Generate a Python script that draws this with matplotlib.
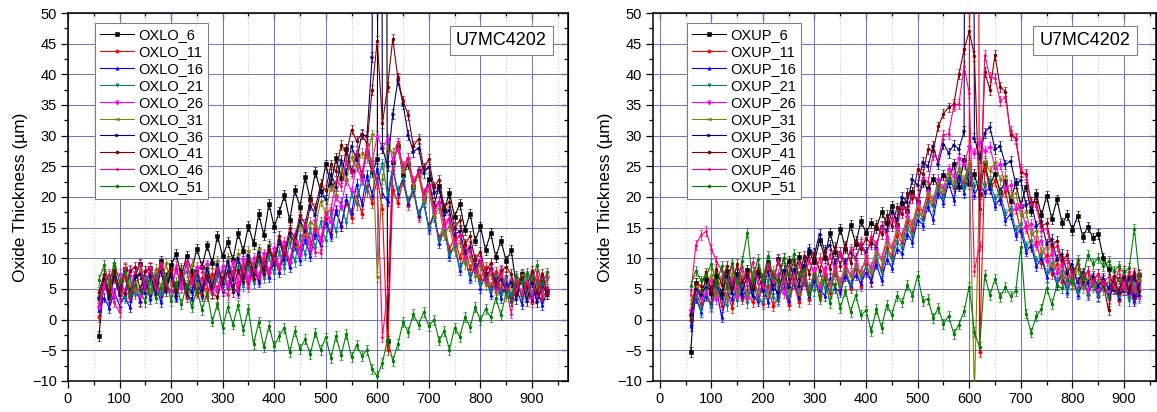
import numpy as np
import matplotlib
matplotlib.use("Agg")
import matplotlib.pyplot as plt
from matplotlib.lines import Line2D
from matplotlib.ticker import MultipleLocator

plt.rcParams['font.family'] = ['Liberation Sans', 'DejaVu Sans']

# Axial position along the rod (x) shared by every profile
POSITION = list(range(60, 931, 10))

# ---- Lower side oxide profiles (um) ----
OXLO_6 = [-2.7, 6.4, 4.1, 7.9, 5.0, 8.3, 4.6, 7.2, 9.1, 5.3,
          8.4, 6.1, 9.6, 6.8, 8.9, 10.7, 7.0, 10.4, 7.9, 11.6,
          8.6, 12.1, 9.2, 13.7, 10.3, 12.6, 9.8, 14.1, 11.2, 15.3,
          12.4, 17.2, 13.8, 18.9, 15.1, 17.6, 20.3, 16.2, 21.1, 18.4,
          23.2, 19.6, 24.1, 20.9, 25.3, 22.0, 26.4, 23.1, 27.8, 24.2,
          26.9, 23.5, 27.1, 24.0, 26.2, 400.0, -3.5, 25.7, 28.3, 23.6,
          25.4, 21.7, 24.3, 19.8, 22.9, 18.6, 21.8, 17.9, 20.7, 16.8,
          18.9, 14.6, 17.3, 12.9, 15.2, 11.4, 14.1, 10.2, 12.9, 9.6,
          11.3, 5.2, 7.4, 4.1, 6.8, 3.9, 6.3, 4.7]
OXLO_11 = [0.5, 5.9, 3.4, 6.8, 4.0, 7.1, 3.6, 5.7, 2.9, 6.5,
           4.1, 7.3, 3.8, 6.0, 8.2, 4.5, 6.9, 3.7, 7.0, 4.3,
           6.8, 3.9, 7.4, 4.7, 8.0, 5.2, 7.9, 4.9, 8.8, 6.1,
           9.3, 6.5, 10.1, 7.7, 10.9, 8.3, 12.0, 9.4, 12.8, 10.6,
           14.2, 11.5, 15.0, 12.8, 16.4, 14.0, 17.9, 15.2, 19.3, 16.6,
           20.2, 17.3, 21.8, 19.0, 23.1, 18.0, -5.0, 21.2, 19.1, 22.6,
           18.7, 21.0, 16.8, 19.3, 15.1, 17.4, 13.2, 15.6, 11.4, 13.5,
           10.1, 12.0, 8.3, 9.9, 6.6, 8.6, 5.3, 7.8, 4.9, 7.1,
           3.6, 6.2, 3.8, 5.9, 2.9, 6.4, 3.5, 5.0]
OXLO_16 = [1.5, 3.6, 1.9, 4.4, 2.3, 3.8, 2.0, 5.6, 3.1, 6.2,
           3.4, 6.0, 2.9, 5.5, 7.1, 3.6, 6.8, 4.2, 3.3, 6.4,
           3.8, 7.0, 4.4, 7.9, 4.6, 8.1, 5.2, 4.3, 7.5, 5.9,
           8.6, 6.1, 9.4, 6.9, 10.2, 7.8, 11.3, 8.6, 12.2, 9.7,
           13.1, 10.4, 14.0, 12.1, 15.9, 13.6, 17.8, 15.2, 19.7, 17.4,
           22.1, 18.9, 23.6, 20.4, 24.8, 20.6, 19.3, 24.5, 20.7, 23.0,
           19.1, 21.4, 17.0, 19.2, 14.8, 17.1, 12.5, 14.7, 10.3, 12.2,
           8.1, 10.3, 6.7, 8.9, 5.2, 7.4, 4.1, 6.8, 3.5, 6.0,
           3.0, 5.2, 2.6, 5.7, 3.3, 4.9, 2.4, 4.6]
OXLO_21 = [3.0, 6.7, 3.9, 7.2, 4.3, 3.5, 6.9, 4.1, 3.8, 7.0,
           4.4, 7.5, 4.0, 6.8, 7.6, 4.2, 6.9, 7.8, 4.5, 7.1,
           4.6, 7.7, 4.2, 7.0, 8.0, 4.8, 7.3, 8.4, 5.5, 8.6,
           6.0, 9.5, 6.8, 10.3, 7.4, 11.1, 8.3, 12.5, 9.4, 13.6,
           10.6, 14.8, 11.7, 15.9, 12.8, 17.5, 14.3, 19.0, 15.8, 20.6,
           18.7, 23.0, 20.8, 24.7, 22.3, 25.4, 20.4, 24.9, 21.0, 23.1,
           19.4, 21.2, 17.3, 19.1, 15.0, 16.8, 12.9, 14.5, 10.6, 12.1,
           8.5, 10.2, 6.9, 8.9, 5.6, 7.5, 4.6, 7.3, 4.2, 6.9,
           3.9, 6.8, 3.6, 7.2, 4.1, 6.0, 4.5, 6.6]
OXLO_26 = [2.0, 5.6, 7.1, 3.8, 7.5, 4.4, 8.1, 5.0, 3.9, 7.9,
           8.4, 4.9, 8.9, 5.3, 4.7, 8.3, 5.2, 9.2, 5.8, 8.6,
           5.4, 9.0, 5.8, 4.9, 8.7, 5.6, 9.4, 6.2, 9.9, 6.6,
           10.1, 7.0, 10.8, 7.8, 11.7, 8.5, 12.6, 9.4, 13.9, 10.6,
           14.7, 11.5, 16.2, 13.0, 17.6, 15.9, 20.1, 18.6, 22.8, 20.9,
           25.2, 22.7, 27.5, 25.8, 29.9, 28.0, 29.4, 26.1, 27.9, 24.3,
           26.3, 22.2, 24.1, 19.9, 21.8, 17.6, 19.0, 15.1, 16.4, 12.5,
           13.8, 10.0, 11.5, 8.1, 9.7, 6.5, 8.4, 5.2, 8.1, 4.6,
           6.5, 4.8, 7.2, 3.6, 7.4, 3.8, 7.0, 4.2]
OXLO_31 = [4.0, 7.2, 5.0, 8.4, 4.3, 8.6, 5.5, 4.7, 8.2, 5.1,
           4.5, 8.3, 5.2, 9.2, 5.6, 4.8, 8.5, 5.3, 9.1, 5.8,
           5.2, 8.8, 5.7, 9.5, 6.1, 10.1, 6.7, 10.7, 7.4, 11.2,
           8.0, 11.6, 8.5, 12.3, 9.0, 12.9, 11.1, 13.1, 12.0, 15.5,
           13.8, 16.0, 15.2, 19.3, 17.4, 21.8, 20.3, 24.3, 22.8, 26.6,
           24.9, 27.2, 26.3, 30.2, 7.0, 23.0, 28.3, 27.2, 28.8, 24.1,
           25.8, 21.7, 23.6, 19.4, 21.1, 16.7, 18.2, 13.8, 15.3, 11.2,
           12.6, 9.0, 10.4, 7.1, 8.9, 5.6, 7.5, 4.4, 7.7, 3.9,
           5.8, 4.1, 7.3, 3.7, 6.9, 5.1, 3.8, 7.0]
OXLO_36 = [3.5, 6.6, 3.6, 7.2, 4.1, 7.8, 3.8, 6.9, 7.5, 4.4,
           7.3, 4.2, 8.0, 4.6, 7.6, 3.9, 8.1, 5.1, 4.5, 7.9,
           4.8, 8.4, 5.3, 9.0, 5.8, 9.5, 6.4, 10.1, 6.9, 10.6,
           7.5, 11.1, 8.1, 12.0, 8.9, 13.0, 9.8, 14.2, 12.4, 16.3,
           14.4, 18.6, 17.1, 21.0, 19.6, 23.8, 21.7, 26.0, 23.9, 28.3,
           26.0, 30.2, 29.9, 42.8, 400.0, 28.0, 25.0, 33.5, 39.0, 35.2,
           30.1, 27.4, 28.0, 23.9, 24.9, 20.6, 21.4, 17.0, 17.8, 13.8,
           14.5, 10.9, 11.8, 8.5, 9.6, 6.7, 8.2, 5.3, 6.6, 4.9,
           6.2, 3.3, 6.8, 3.1, 6.1, 2.8, 5.6, 4.2]
OXLO_41 = [4.5, 7.4, 4.4, 8.1, 5.0, 4.2, 7.9, 8.6, 4.9, 8.0,
           8.5, 5.4, 9.0, 5.1, 8.2, 4.7, 7.8, 4.4, 7.5, 4.6,
           4.1, 7.2, 4.3, 3.7, 7.0, 7.7, 4.5, 8.1, 6.2, 9.6,
           6.6, 10.4, 7.5, 11.5, 9.8, 13.6, 10.7, 14.9, 13.2, 17.1,
           15.6, 19.5, 18.2, 22.1, 21.1, 25.3, 24.2, 28.5, 27.1, 31.0,
           29.1, 30.3, 28.6, 37.5, 45.5, 32.0, 38.0, 45.8, 39.4, 35.6,
           33.4, 28.3, 29.5, 24.7, 26.2, 21.6, 22.8, 18.3, 19.2, 14.9,
           16.2, 12.3, 13.6, 9.8, 11.1, 7.6, 9.2, 6.0, 7.9, 8.6,
           7.4, 4.0, 7.0, 5.4, 7.9, 4.3, 7.5, 4.1]
OXLO_46 = [2.5, 6.0, 7.5, 2.8, 1.2, 8.4, 3.9, 7.8, 9.0, 5.0,
           8.6, 5.1, 9.3, 5.7, 4.8, 8.7, 5.3, 9.5, 5.9, 7.7,
           8.8, 5.2, 4.3, 8.4, 4.9, 4.0, 8.0, 4.6, 8.7, 5.3,
           8.3, 6.8, 9.9, 7.4, 10.1, 8.2, 11.6, 9.3, 13.0, 11.7,
           15.6, 12.9, 11.1, 10.8, 17.3, 18.0, 22.6, 21.8, 26.0, 23.9,
           27.4, 23.6, 28.6, 24.7, 22.2, -2.8, 4.5, 24.6, 28.9, 25.0,
           26.4, 22.6, 24.0, 20.7, 22.0, 18.3, 19.4, 15.6, 16.5, 12.7,
           13.8, 10.1, 11.4, 7.8, 9.5, 6.3, 8.1, 4.9, 7.6, 5.1,
           1.0, 6.7, 4.2, 6.1, 3.6, 7.9, 4.1, 7.2]
OXLO_51 = [6.5, 8.9, 5.8, 9.3, 6.2, 7.8, 4.0, 5.7, 4.6, 2.9,
           6.4, 3.5, 5.1, 6.9, 3.0, 6.1, 2.5, 5.6, 2.0, 4.9,
           1.6, 4.4, -0.3, 2.6, -1.3, 2.1, -0.8, 2.4, -1.7, 1.7,
           -4.0, -0.4, -4.5, -1.0, -4.3, -2.6, -1.3, -5.3, -1.8, -4.8,
           -3.2, -5.6, -2.1, -4.9, -2.9, -6.2, -2.7, -5.8, -2.3, -6.1,
           -4.1, -5.9, -5.0, -8.1, -9.2, -7.0, -3.2, -6.7, -4.0, -0.4,
           -2.0, 0.9, -0.8, 1.2, -1.1, 0.0, -3.4, -1.8, -4.9, -1.3,
           -2.8, 0.4, -1.2, 2.0, -0.1, 1.7, 0.4, 3.5, 0.8, 4.3,
           3.1, 7.2, 5.9, 7.6, 6.5, 8.9, 5.8, 7.7]

# ---- Upper side oxide profiles (um) ----
OXUP_6 = [-5.3, 6.0, 4.1, 6.6, 4.3, 7.2, 4.2, 8.0, 6.3, 7.4,
          5.8, 8.1, 5.2, 7.8, 6.3, 9.4, 6.0, 9.9, 6.8, 9.6,
          6.9, 10.2, 7.5, 11.0, 9.4, 13.0, 10.1, 14.2, 11.1, 14.8,
          11.6, 15.4, 12.3, 16.1, 14.2, 15.8, 15.0, 17.5, 15.7, 18.6,
          15.4, 19.0, 17.7, 20.8, 19.2, 22.4, 21.3, 22.9, 21.9, 23.6,
          22.4, 25.4, 21.7, 26.0, 22.1, 23.7, 20.5, 25.5, 21.9, 23.8,
          20.8, 22.6, 19.4, 22.3, 18.6, 21.7, 17.7, 20.5, 17.0, 20.2,
          16.4, 19.6, 15.7, 17.0, 14.6, 16.9, 13.5, 15.1, 13.3, 14.0,
          10.0, 8.2, 5.0, 6.6, 4.8, 7.0, 3.7, 7.3]
OXUP_11 = [1.0, 4.3, 2.5, 3.9, 2.6, 6.2, 2.3, 5.3, 1.9, 4.9,
           3.4, 4.2, 2.9, 4.0, 2.5, 5.5, 2.2, 3.7, 5.2, 2.4,
           5.9, 2.8, 6.3, 3.3, 6.7, 3.8, 7.2, 4.3, 7.7, 4.8,
           7.9, 5.1, 8.4, 5.5, 9.0, 6.1, 9.7, 8.3, 11.7, 10.4,
           13.8, 12.5, 16.0, 14.5, 18.1, 16.6, 19.8, 18.7, 21.6, 20.2,
           22.9, 21.5, 23.5, 22.4, 25.3, 400.0, -5.3, 24.9, 21.3, 22.6,
           19.5, 20.9, 17.2, 18.2, 14.3, 15.3, 11.8, 12.6, 9.2, 10.5,
           7.5, 9.0, 6.1, 7.6, 5.9, 4.7, 7.4, 4.0, 6.8, 3.8,
           6.5, 3.5, 7.0, 3.2, 6.2, 4.5, 3.3, 6.3]
OXUP_16 = [-1.0, 3.5, 1.3, 4.0, 2.2, 5.1, 0.4, 4.2, 3.4, 4.9,
           3.8, 4.7, 4.1, 3.0, 5.8, 2.8, 6.6, 3.3, 6.1, 3.1,
           6.4, 3.5, 6.9, 3.8, 6.5, 4.9, 3.9, 6.8, 5.2, 4.5,
           7.1, 5.6, 7.3, 6.0, 7.7, 6.3, 9.1, 6.4, 9.9, 8.5,
           11.6, 10.8, 13.9, 12.7, 16.3, 15.5, 18.5, 16.4, 20.7, 19.1,
           22.4, 19.5, 23.5, 20.7, 24.1, 20.4, 21.9, 20.8, 21.5, 18.6,
           19.7, 16.2, 17.2, 13.8, 14.7, 11.1, 12.1, 8.7, 10.0, 7.0,
           8.5, 5.7, 7.3, 4.5, 7.2, 4.1, 5.9, 4.4, 5.7, 3.9,
           5.5, 4.0, 5.1, 3.6, 4.9, 6.4, 3.1, 5.9]
OXUP_21 = [0.5, 3.8, 1.6, 4.5, 2.0, 5.0, 3.5, 2.2, 6.0, 3.0,
           5.7, 2.7, 6.2, 3.3, 2.8, 6.4, 3.6, 3.0, 6.7, 3.7,
           6.3, 4.9, 6.5, 5.3, 4.6, 8.0, 5.1, 4.7, 8.1, 5.4,
           8.3, 5.7, 8.7, 7.0, 8.6, 7.5, 10.3, 7.6, 11.2, 9.8,
           12.7, 11.7, 15.0, 13.6, 17.0, 16.1, 19.2, 18.3, 21.4, 19.9,
           23.0, 21.7, 24.6, 21.3, 24.9, 21.6, 23.0, 21.8, 22.7, 19.7,
           20.8, 17.3, 18.1, 14.7, 15.6, 12.0, 12.9, 9.5, 10.6, 7.6,
           9.0, 6.1, 7.7, 4.9, 7.6, 4.3, 7.0, 4.0, 6.7, 3.7,
           6.4, 3.4, 6.8, 3.8, 6.5, 3.1, 6.1, 3.5]
OXUP_26 = [1.5, 4.7, 3.7, 4.3, 6.4, 3.3, 7.0, 3.6, 6.6, 3.8,
           6.7, 3.7, 7.2, 4.2, 5.8, 4.8, 6.3, 7.5, 4.4, 6.0,
           7.3, 4.3, 7.9, 4.9, 8.2, 5.4, 8.5, 5.7, 8.8, 6.1,
           9.0, 7.3, 8.9, 7.9, 9.7, 8.6, 11.5, 10.0, 13.1, 11.8,
           14.9, 13.8, 16.9, 15.6, 19.0, 17.7, 21.0, 19.5, 22.9, 21.4,
           24.5, 23.5, 26.4, 25.3, 28.3, 27.2, 28.9, 27.5, 28.2, 24.8,
           25.4, 21.5, 21.9, 18.1, 18.7, 15.0, 15.6, 12.1, 12.9, 9.5,
           10.7, 7.6, 9.0, 6.1, 7.7, 6.0, 7.1, 4.9, 6.7, 5.0,
           6.5, 4.9, 6.2, 4.6, 5.9, 4.4, 7.3, 3.9]
OXUP_31 = [2.5, 5.5, 4.5, 5.1, 7.3, 4.0, 6.9, 3.5, 7.6, 4.3,
           7.1, 4.1, 7.8, 4.4, 7.4, 3.9, 8.0, 4.7, 7.5, 4.5,
           7.2, 4.2, 7.7, 4.8, 7.4, 5.9, 7.5, 5.7, 8.4, 5.8,
           8.6, 7.0, 8.8, 7.5, 10.3, 7.7, 11.0, 9.6, 12.6, 11.5,
           14.5, 13.4, 16.4, 15.5, 18.6, 17.3, 20.7, 19.4, 22.3, 21.0,
           23.9, 22.3, 24.5, 22.8, 25.6, -12.0, 22.1, 25.9, 24.2, 25.7,
           22.8, 23.5, 20.0, 20.7, 16.9, 17.6, 13.9, 14.5, 11.0, 11.9,
           8.6, 9.9, 6.9, 8.4, 5.6, 8.3, 5.1, 6.8, 5.3, 6.4,
           4.8, 6.3, 5.2, 6.6, 4.9, 6.1, 4.6, 6.5]
OXUP_36 = [0.8, 5.0, 4.1, 5.4, 4.7, 5.9, 3.6, 7.2, 4.3, 7.4,
           4.4, 7.3, 3.9, 7.7, 4.7, 8.0, 5.0, 4.5, 8.1, 5.3,
           8.3, 5.5, 8.9, 11.6, 10.7, 14.0, 11.1, 12.2, 9.2, 11.0,
           9.3, 11.0, 10.1, 12.3, 11.0, 12.7, 11.9, 15.3, 14.5, 17.6,
           16.4, 20.0, 19.2, 22.9, 21.9, 25.7, 25.0, 28.3, 25.4, 28.7,
           27.2, 28.5, 27.8, 30.7, 400.0, 29.7, 26.4, 30.5, 31.4, 27.8,
           28.3, 25.3, 25.9, 22.2, 22.7, 18.7, 19.2, 15.3, 16.0, 12.4,
           13.2, 9.7, 10.7, 7.6, 9.0, 6.1, 7.7, 6.0, 7.1, 5.4,
           6.8, 5.2, 6.2, 4.7, 6.9, 4.4, 7.1, 4.1]
OXUP_41 = [0.0, 6.0, 5.5, 7.7, 4.8, 8.3, 5.7, 8.8, 5.0, 9.1,
           6.2, 7.6, 5.4, 8.1, 6.8, 9.0, 7.3, 6.4, 10.0, 6.7,
           9.7, 6.8, 10.4, 7.4, 10.9, 7.9, 11.3, 8.3, 11.8, 8.8,
           12.1, 9.3, 12.9, 11.5, 13.2, 12.4, 15.4, 14.0, 17.0, 15.3,
           18.3, 17.3, 20.6, 19.9, 24.5, 23.7, 27.8, 27.5, 31.5, 33.6,
           34.6, 35.1, 40.0, 44.1, 47.0, 43.0, 18.0, 40.4, 37.5, 43.1,
           37.9, 37.2, 30.1, 29.5, 24.1, 23.7, 19.2, 19.2, 15.3, 15.7,
           12.0, 12.9, 9.5, 10.6, 7.6, 9.1, 6.3, 7.9, 6.4, 7.4,
           5.9, 1.5, 7.2, 4.3, 7.9, 4.8, 7.6, 4.6]
OXUP_46 = [4.0, 12.2, 13.8, 14.4, 11.6, 9.5, 8.1, 5.8, 8.9, 5.3,
           8.6, 5.7, 9.4, 6.0, 5.4, 9.0, 6.1, 9.7, 5.8, 8.8,
           5.9, 9.3, 6.4, 9.9, 7.0, 10.1, 7.3, 10.7, 8.0, 11.1,
           8.4, 11.5, 9.8, 12.7, 10.1, 13.6, 12.2, 15.1, 13.7, 16.6,
           15.3, 18.4, 17.5, 20.3, 19.7, 23.2, 22.4, 26.9, 26.1, 30.1,
           30.3, 34.8, 35.2, 41.3, 36.9, 8.0, 12.0, 43.2, 39.5, 39.4,
           35.6, 36.3, 30.7, 29.6, 24.5, 23.5, 18.8, 18.6, 14.5, 14.9,
           11.2, 12.0, 8.7, 10.0, 7.0, 9.2, 6.9, 7.9, 6.2, 7.4,
           5.8, 7.0, 5.4, 8.3, 5.0, 7.9, 4.5, 7.5]
OXUP_51 = [5.5, 8.0, 6.4, 7.2, 9.1, 5.8, 8.7, 5.2, 9.3, 6.0,
           9.6, 14.2, 6.3, 9.9, 6.5, 10.4, 7.0, 6.1, 10.1, 7.3,
           10.7, 7.2, 8.2, 4.1, 7.5, 3.4, 6.7, 2.7, 5.8, 1.9,
           4.7, 1.3, 4.0, 0.7, 1.5, -1.9, 1.7, -1.3, 2.4, 0.8,
           3.9, 2.8, 5.7, 3.9, 7.2, 3.1, 3.4, 0.3, 1.9, -0.7,
           0.6, -2.3, -0.8, 1.4, 5.4, -2.0, -4.5, 7.3, 4.0, 6.7,
           3.7, 5.3, 3.9, 4.6, 11.8, 1.0, -2.1, 0.6, 1.7, 5.2,
           2.5, 5.6, 5.1, 6.5, 6.0, 9.7, 6.7, 10.6, 9.1, 10.0,
           8.7, 9.5, 8.0, 8.7, 7.7, 8.4, 14.8, 6.9]

# Measurement uncertainty drawn as error bars (um)
THICKNESS_ERR = 0.8

SAMPLE_ID = "U7MC4202"
LOWER = [("OXLO_6", OXLO_6), ("OXLO_11", OXLO_11), ("OXLO_16", OXLO_16),
         ("OXLO_21", OXLO_21), ("OXLO_26", OXLO_26), ("OXLO_31", OXLO_31),
         ("OXLO_36", OXLO_36), ("OXLO_41", OXLO_41), ("OXLO_46", OXLO_46),
         ("OXLO_51", OXLO_51)]
UPPER = [("OXUP_6", OXUP_6), ("OXUP_11", OXUP_11), ("OXUP_16", OXUP_16),
         ("OXUP_21", OXUP_21), ("OXUP_26", OXUP_26), ("OXUP_31", OXUP_31),
         ("OXUP_36", OXUP_36), ("OXUP_41", OXUP_41), ("OXUP_46", OXUP_46),
         ("OXUP_51", OXUP_51)]

COLORS = ["#000000", "#ff0000", "#0000ff", "#008080", "#ff00ff",
          "#808000", "#000080", "#800000", "#ff0080", "#008000"]
MARKERS = ["s", "o", "^", "v", "D", "<", ">", "h", "*", "p"]

fig = plt.figure(figsize=(11.57, 4.12), dpi=100)
W, H = 1157.0, 412.0


def draw_panel(rect, series, xlim, legend_x, box_x):
    ax = fig.add_axes(rect)
    x = np.array(POSITION, dtype=float)
    handles = []
    for (name, vals), c, m in zip(series, COLORS, MARKERS):
        y = np.array(vals, dtype=float)
        assert len(y) == len(x), name
        ax.errorbar(x, y, yerr=THICKNESS_ERR, fmt='-', color=c, lw=0.8,
                    marker=m, ms=2.4, mew=0.4, elinewidth=0.6,
                    capsize=1.2, capthick=0.6, zorder=3)
        handles.append(Line2D([], [], color=c, lw=0.8, marker=m, ms=2.4,
                              mew=0.4, label=name))
    ax.set_xlim(*xlim)
    ax.set_ylim(-10, 50)
    ax.xaxis.set_major_locator(MultipleLocator(100))
    ax.xaxis.set_minor_locator(MultipleLocator(50))
    ax.yaxis.set_major_locator(MultipleLocator(5))
    ax.yaxis.set_minor_locator(MultipleLocator(2.5))
    ax.set_xticks(np.arange(0, 901, 100))
    ax.grid(True, which='major', color='#7070cc', lw=0.7, zorder=0)
    ax.grid(True, which='minor', axis='x', color='#c4dcbc', lw=0.7,
            ls=(0, (1.5, 2.0)), zorder=0)
    ax.set_axisbelow(True)
    for s in ax.spines.values():
        s.set_linewidth(1.1)
    ax.tick_params(which='major', direction='out', length=5, width=0.9,
                   labelsize=10.5, pad=3)
    ax.tick_params(which='minor', direction='out', length=3, width=0.9)
    top = ax.secondary_xaxis('top')
    top.xaxis.set_major_locator(MultipleLocator(100))
    top.xaxis.set_minor_locator(MultipleLocator(50))
    top.tick_params(which='major', direction='in', length=5, width=0.9,
                    labeltop=False)
    top.tick_params(which='minor', direction='in', length=3, width=0.9)
    right = ax.secondary_yaxis('right')
    right.yaxis.set_major_locator(MultipleLocator(5))
    right.yaxis.set_minor_locator(MultipleLocator(2.5))
    right.tick_params(which='major', direction='in', length=5, width=0.9,
                      labelright=False)
    right.tick_params(which='minor', direction='in', length=3, width=0.9)
    ax.set_ylabel("Oxide Thickness (\u00b5m)", fontsize=12.5, labelpad=3)
    leg = ax.legend(handles=handles, loc='upper left',
                    bbox_to_anchor=(legend_x, 0.973), borderaxespad=0,
                    fontsize=10.5, handlelength=2.3, handletextpad=0.3,
                    labelspacing=0.2, borderpad=0.35, fancybox=False,
                    framealpha=1.0)
    leg.get_frame().set_edgecolor('#808080')
    leg.get_frame().set_linewidth(0.8)
    leg.set_zorder(10)
    ax.text(box_x, 0.925, SAMPLE_ID, transform=ax.transAxes, fontsize=13,
            ha='center', va='center', zorder=11,
            bbox=dict(boxstyle='square,pad=0.35', fc='white', ec='#808080',
                      lw=0.8))
    return ax


draw_panel([68 / W, 31 / H, 500 / W, 368 / H], LOWER, (0, 970), 0.054, 0.867)
draw_panel([653 / W, 31 / H, 503 / W, 368 / H], UPPER, (-13, 962), 0.068, 0.859)

fig.savefig("out.png", dpi=100)
